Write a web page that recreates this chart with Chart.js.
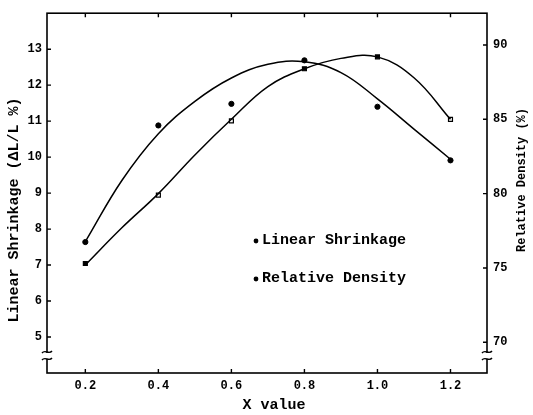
<!DOCTYPE html>
<html>
<head>
<meta charset="utf-8">
<script src="https://cdn.jsdelivr.net/npm/chart.js@4.4.0/dist/chart.umd.min.js"></script>
<style>
html, body { margin: 0; padding: 0; background: #fff; }
</style>
</head>
<body>
<canvas id="chart" width="533" height="415"></canvas>
<script>
// measured points
const xValues = [0.2, 0.4, 0.6, 0.8, 1.0, 1.2];
const shrinkage = [7.64, 10.88, 11.48, 12.69, 11.40, 9.91];
const density = [75.3, 79.9, 84.9, 88.4, 89.2, 85.0];

// hand-drawn fit curves
const curveX = [0.2, 0.3, 0.4, 0.5, 0.6, 0.7, 0.8, 0.9, 1.0, 1.1, 1.2];
const shrinkageCurve = [7.65, 9.35, 10.65, 11.55, 12.2, 12.58, 12.65, 12.35, 11.62, 10.78, 9.94];
const densityCurve = [75.2, 77.7, 80.0, 82.6, 85.0, 87.2, 88.4, 89.1, 89.2, 87.8, 85.0];

const xTicks = [0.2, 0.4, 0.6, 0.8, 1.0, 1.2];
const leftTicks = [5, 6, 7, 8, 9, 10, 11, 12, 13];
const rightTicks = [70, 75, 80, 85, 90];

const legendLabels = ["Linear Shrinkage", "Relative Density"];
const xTitle = "X value";
const leftTitle = "Linear Shrinkage (\u0394L/L %)";
const rightTitle = "Relative Density (%)";

const FONT = "'Liberation Mono', 'DejaVu Sans Mono', monospace";
const pts = (xs, ys) => xs.map((x, i) => ({ x: x, y: ys[i] }));

const frame = {
    id: "frame",
    afterDraw(chart) {
        const { ctx, chartArea: a, scales } = chart;
        ctx.save();
        ctx.strokeStyle = "#000";
        ctx.lineWidth = 1.6;
        ctx.strokeRect(a.left, a.top, a.right - a.left, a.bottom - a.top);

        // inward tick marks
        ctx.lineWidth = 1.4;
        ctx.beginPath();
        xTicks.forEach((v) => {
            const px = scales.x.getPixelForValue(v);
            ctx.moveTo(px, a.bottom); ctx.lineTo(px, a.bottom - 4);
            ctx.moveTo(px, a.top); ctx.lineTo(px, a.top + 4);
        });
        leftTicks.forEach((v) => {
            const py = scales.y.getPixelForValue(v);
            ctx.moveTo(a.left, py); ctx.lineTo(a.left + 4, py);
        });
        rightTicks.forEach((v) => {
            const py = scales.y2.getPixelForValue(v);
            ctx.moveTo(a.right, py); ctx.lineTo(a.right - 4, py);
        });
        ctx.stroke();

        // axis breaks
        [a.left, a.right].forEach((bx) => {
            ctx.fillStyle = "#fff";
            ctx.fillRect(bx - 2, a.bottom - 20, 4, 6);
            ctx.beginPath();
            [a.bottom - 21, a.bottom - 14].forEach((by) => {
                ctx.moveTo(bx - 5, by + 1);
                ctx.bezierCurveTo(bx - 2, by - 3, bx + 2, by + 3, bx + 5, by - 1);
            });
            ctx.stroke();
        });

        // legend
        ctx.fillStyle = "#000";
        ctx.font = "bold 15px " + FONT;
        ctx.textBaseline = "middle";
        ctx.textAlign = "left";
        legendLabels.forEach((t, i) => {
            const y = 240 + i * 38;
            ctx.beginPath();
            ctx.arc(256, y + 1, 2.4, 0, Math.PI * 2);
            ctx.fill();
            ctx.fillText(t, 262, y);
        });

        // titles
        ctx.textAlign = "center";
        ctx.font = "bold 15px " + FONT;
        ctx.fillText(xTitle, 274, 405);

        ctx.save();
        ctx.translate(14, 210);
        ctx.rotate(-Math.PI / 2);
        ctx.fillText(leftTitle, 0, 0);
        ctx.restore();

        ctx.save();
        ctx.translate(522, 180);
        ctx.rotate(-Math.PI / 2);
        ctx.font = "bold 12px " + FONT;
        ctx.fillText(rightTitle, 0, 0);
        ctx.restore();

        ctx.restore();
    },
};

const tickFont = { family: FONT, size: 12, weight: "bold" };

new Chart(document.getElementById("chart"), {
    type: "scatter",
    data: {
        datasets: [
            {
                data: pts(curveX, shrinkageCurve),
                yAxisID: "y",
                showLine: true,
                tension: 0.4,
                borderColor: "#000",
                borderWidth: 1.5,
                pointRadius: 0,
            },
            {
                data: pts(curveX, densityCurve),
                yAxisID: "y2",
                showLine: true,
                tension: 0.4,
                borderColor: "#000",
                borderWidth: 1.5,
                pointRadius: 0,
            },
            {
                data: pts(xValues, shrinkage),
                yAxisID: "y",
                pointStyle: "circle",
                pointRadius: 2.6,
                backgroundColor: "#000",
                borderColor: "#000",
            },
            {
                data: pts(xValues, density),
                yAxisID: "y2",
                pointStyle: "rect",
                pointRadius: 2.8,
                borderWidth: 1.2,
                backgroundColor: ["#000", "#fff", "#fff", "#000", "#000", "#fff"],
                borderColor: "#000",
            },
        ],
    },
    options: {
        responsive: false,
        animation: false,
        layout: { padding: { top: 9, left: 0, right: 0, bottom: 0 } },
        plugins: {
            legend: { display: false },
            tooltip: { enabled: false },
        },
        scales: {
            x: {
                type: "linear",
                min: 0.095,
                max: 1.3,
                afterBuildTicks: (s) => { s.ticks = xTicks.map((v) => ({ value: v })); },
                afterFit: (s) => { s.height = 42; },
                grid: { display: false, drawTicks: false },
                border: { display: false },
                ticks: {
                    padding: 6,
                    color: "#000",
                    font: tickFont,
                    callback: (v) => v.toFixed(1),
                },
            },
            y: {
                position: "left",
                min: 4,
                max: 14,
                afterBuildTicks: (s) => { s.ticks = leftTicks.map((v) => ({ value: v })); },
                afterFit: (s) => { s.width = 47; },
                grid: { display: false, drawTicks: false },
                border: { display: false },
                ticks: { padding: 5, color: "#000", font: tickFont },
            },
            y2: {
                position: "right",
                min: 67.93,
                max: 92.14,
                afterBuildTicks: (s) => { s.ticks = rightTicks.map((v) => ({ value: v })); },
                afterFit: (s) => { s.width = 46; },
                grid: { display: false, drawTicks: false },
                border: { display: false },
                ticks: { padding: 6, color: "#000", font: tickFont },
            },
        },
    },
    plugins: [frame],
});
</script>
</body>
</html>
